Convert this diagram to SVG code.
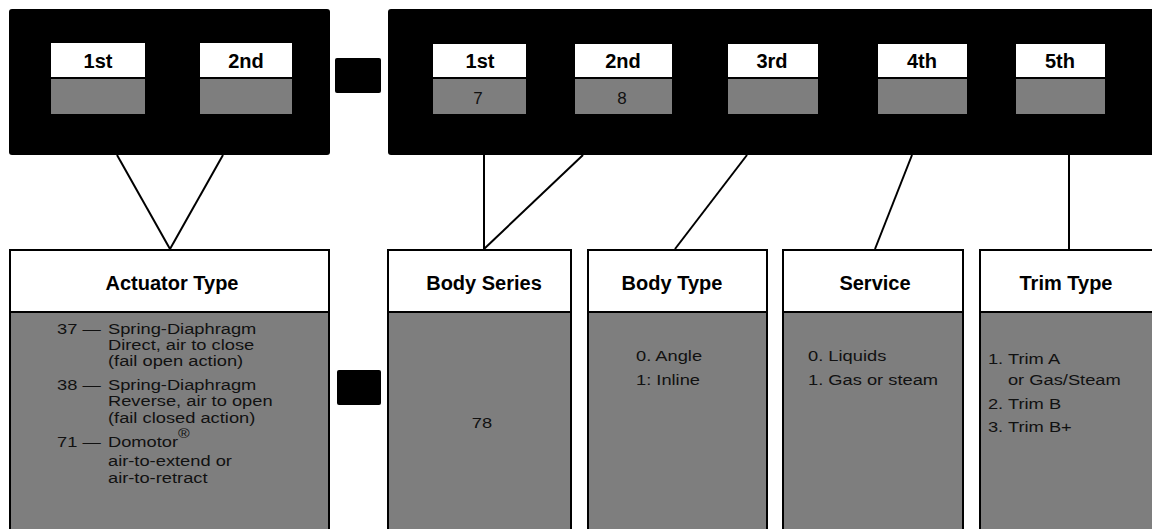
<svg xmlns="http://www.w3.org/2000/svg" width="1152" height="529" viewBox="0 0 1152 529">
<style>
.blk{fill:#000}
.wh{fill:#fff}
.gr{fill:#7e7e7e}
.box{fill:#7e7e7e;stroke:#000;stroke-width:2}
.hdr{fill:#fff;stroke:#000;stroke-width:2}
.lbl{font-family:"Liberation Sans",Arial,sans-serif;font-weight:bold;font-size:20px;fill:#000;text-anchor:middle}
.txt{font-family:"Liberation Sans",Arial,sans-serif;font-size:15px;fill:#111}
.big{font-size:17px}
.mid{text-anchor:middle}
.con{stroke:#000;stroke-width:2;fill:none}
</style>
<rect x="0" y="0" width="1152" height="529" fill="#fff"/>

<g id="code-actuator">
<rect class="blk" x="9" y="9" width="321" height="146" rx="3"/>
<rect class="wh" x="51" y="43" width="94" height="34"/>
<rect class="gr" x="51" y="79" width="94" height="35"/>
<text class="lbl" x="98" y="68">1st</text>
<rect class="wh" x="200" y="43" width="92" height="34"/>
<rect class="gr" x="200" y="79" width="92" height="35"/>
<text class="lbl" x="246" y="68">2nd</text>
</g>

<g id="dash-top">
<rect class="blk" x="335" y="58" width="46" height="35" rx="2"/>
</g>

<g id="code-body">
<rect class="blk" x="388" y="9" width="780" height="146" rx="3"/>
<rect class="wh" x="433" y="44" width="93" height="33"/>
<rect class="gr" x="433" y="79" width="93" height="35"/>
<text class="lbl" x="480" y="68">1st</text>
<text class="txt big mid" x="478" y="104">7</text>
<rect class="wh" x="575" y="44" width="97" height="33"/>
<rect class="gr" x="575" y="79" width="97" height="35"/>
<text class="lbl" x="623" y="68">2nd</text>
<text class="txt big mid" x="622" y="104">8</text>
<rect class="wh" x="728" y="44" width="90" height="33"/>
<rect class="gr" x="728" y="79" width="90" height="35"/>
<text class="lbl" x="772" y="68">3rd</text>
<rect class="wh" x="878" y="44" width="89" height="33"/>
<rect class="gr" x="878" y="79" width="89" height="35"/>
<text class="lbl" x="922" y="68">4th</text>
<rect class="wh" x="1016" y="44" width="89" height="33"/>
<rect class="gr" x="1016" y="79" width="89" height="35"/>
<text class="lbl" x="1060" y="68">5th</text>
</g>

<g id="connectors">
<line class="con" x1="117" y1="155" x2="170" y2="249"/>
<line class="con" x1="223" y1="155" x2="170" y2="249"/>
<line class="con" x1="484" y1="155" x2="484" y2="249"/>
<line class="con" x1="583" y1="155" x2="484" y2="249"/>
<line class="con" x1="747" y1="155" x2="675" y2="249"/>
<line class="con" x1="912" y1="155" x2="875" y2="249"/>
<line class="con" x1="1069" y1="155" x2="1069" y2="249"/>
</g>

<g id="actuator-type">
<rect class="box" x="10" y="250" width="319" height="290"/>
<rect class="hdr" x="10" y="250" width="319" height="62"/>
<text class="lbl" x="172" y="290">Actuator Type</text>
<g transform="scale(1.22,1)">
<text class="txt" x="46.7" y="334">37 — <tspan x="88.5">Spring-Diaphragm</tspan></text>
<text class="txt" x="88.5" y="350">Direct, air to close</text>
<text class="txt" x="88.5" y="366">(fail open action)</text>
<text class="txt" x="46.7" y="390">38 — <tspan x="88.5">Spring-Diaphragm</tspan></text>
<text class="txt" x="88.5" y="406">Reverse, air to open</text>
<text class="txt" x="88.5" y="423">(fail closed action)</text>
<text class="txt" x="46.7" y="447">71 — <tspan x="88.5">Domotor</tspan><tspan style="font-size:13px" dy="-9">®</tspan></text>
<text class="txt" x="88.5" y="466">air-to-extend or</text>
<text class="txt" x="88.5" y="483">air-to-retract</text>
</g>
</g>

<g id="dash-bottom">
<rect class="blk" x="337" y="370" width="44" height="35" rx="2"/>
</g>

<g id="body-series">
<rect class="box" x="388" y="250" width="183" height="290"/>
<rect class="hdr" x="388" y="250" width="183" height="62"/>
<text class="lbl" x="484" y="290">Body Series</text>
<text class="txt mid" x="395.1" y="428" transform="scale(1.22,1)">78</text>
</g>

<g id="body-type">
<rect class="box" x="588" y="250" width="179" height="290"/>
<rect class="hdr" x="588" y="250" width="179" height="62"/>
<text class="lbl" x="672" y="290">Body Type</text>
<g transform="scale(1.22,1)">
<text class="txt" x="521.3" y="361">0. Angle</text>
<text class="txt" x="521.3" y="385">1: Inline</text>
</g>
</g>

<g id="service">
<rect class="box" x="783" y="250" width="180" height="290"/>
<rect class="hdr" x="783" y="250" width="180" height="62"/>
<text class="lbl" x="875" y="290">Service</text>
<g transform="scale(1.22,1)">
<text class="txt" x="662.3" y="361">0. Liquids</text>
<text class="txt" x="662.3" y="385">1. Gas or steam</text>
</g>
</g>

<g id="trim-type">
<rect class="box" x="980" y="250" width="190" height="290"/>
<rect class="hdr" x="980" y="250" width="190" height="62"/>
<text class="lbl" x="1066" y="290">Trim Type</text>
<g transform="scale(1.22,1)">
<text class="txt" x="809.8" y="364">1. Trim A</text>
<text class="txt" x="826.2" y="385">or Gas/Steam</text>
<text class="txt" x="809.8" y="409">2. Trim B</text>
<text class="txt" x="809.8" y="432">3. Trim B+</text>
</g>
</g>
</svg>
